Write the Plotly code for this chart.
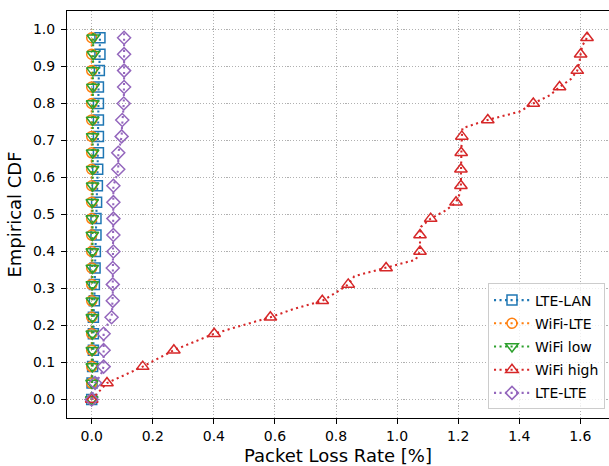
import plotly.graph_objects as go

# ---- data (ECDF: 46 sorted samples per series, y = i/45; markers every 2nd sample) ----
n_points = 46
mark_every = 2

lte_lan = [0.0, 0.0005, 0.001, 0.002, 0.003, 0.004, 0.0055, 0.0055, 0.0055, 0.0055,
           0.0055, 0.007, 0.0087, 0.0087, 0.0087, 0.010, 0.011, 0.0115, 0.012, 0.013,
           0.014, 0.014, 0.014, 0.015, 0.016, 0.017, 0.0186, 0.019, 0.0196, 0.021,
           0.022, 0.022, 0.022, 0.022, 0.022, 0.022, 0.022, 0.022, 0.022, 0.023,
           0.025, 0.026, 0.027, 0.027, 0.027, 0.027]

wifi_lte = [0.0] * 46

wifi_low = [0.0, 0.0005, 0.001, 0.0015, 0.002, 0.002, 0.002, 0.002, 0.002, 0.002,
            0.002, 0.002, 0.002, 0.002, 0.002, 0.002, 0.002, 0.002, 0.002, 0.002,
            0.002, 0.002, 0.002, 0.002, 0.002, 0.0025, 0.003, 0.003, 0.003, 0.003,
            0.003, 0.003, 0.003, 0.003, 0.003, 0.003, 0.003, 0.0035, 0.004, 0.004,
            0.004, 0.0045, 0.005, 0.005, 0.005, 0.005]

wifi_high = [0.0, 0.025, 0.050, 0.109, 0.167, 0.218, 0.269, 0.335, 0.401, 0.491,
             0.585, 0.660, 0.755, 0.800, 0.840, 0.860, 0.964, 1.061, 1.075, 1.075,
             1.075, 1.078, 1.110, 1.160, 1.193, 1.205, 1.209, 1.209, 1.209, 1.209,
             1.210, 1.211, 1.212, 1.214, 1.297, 1.400, 1.446, 1.500, 1.532, 1.570,
             1.590, 1.597, 1.601, 1.606, 1.622, 1.625]

lte_lte = [0.0, 0.004, 0.011, 0.030, 0.039, 0.039, 0.039, 0.039, 0.039, 0.050,
           0.065, 0.067, 0.069, 0.069, 0.069, 0.069, 0.069, 0.070, 0.071, 0.071,
           0.071, 0.071, 0.071, 0.071, 0.071, 0.071, 0.071, 0.080, 0.087, 0.087,
           0.087, 0.093, 0.098, 0.099, 0.100, 0.103, 0.105, 0.106, 0.106, 0.106,
           0.106, 0.106, 0.106, 0.106, 0.106, 0.106]

series_names = ["LTE-LAN", "WiFi-LTE", "WiFi low", "WiFi high", "LTE-LTE"]
series_values = [lte_lan, wifi_lte, wifi_low, wifi_high, lte_lte]
series_colors = ["#1f77b4", "#ff7f0e", "#2ca02c", "#d62728", "#9467bd"]
series_symbols = ["square-open", "circle-open", "triangle-down-open", "triangle-up-open", "diamond-open"]
series_msize = [10, 10, 11, 11, 10]

x_ticks = [0.0, 0.2, 0.4, 0.6, 0.8, 1.0, 1.2, 1.4, 1.6]
y_ticks = [0.0, 0.1, 0.2, 0.3, 0.4, 0.5, 0.6, 0.7, 0.8, 0.9, 1.0]

ecdf_y = [i / (n_points - 1) for i in range(n_points)]

FONT = "DejaVu Sans"
fig = go.Figure()
for name, vals, col, sym, ms in zip(series_names, series_values, series_colors,
                                    series_symbols, series_msize):
    mcolors = [col if (i % mark_every == 0 and i < n_points - 1) else "rgba(0,0,0,0)"
               for i in range(n_points)]
    fig.add_trace(go.Scatter(
        x=vals, y=ecdf_y, name=name, mode="lines+markers",
        legendgroup=name,
        line=dict(color=col, width=2.08, dash="2.08px,3.44px"),
        marker=dict(symbol=sym, size=ms, color=mcolors, line=dict(width=1.5)),
    ))

axis_common = dict(
    showline=True, linecolor="black", linewidth=1.1,
    ticks="outside", ticklen=5, tickwidth=1.1, tickcolor="black",
    showgrid=True, gridcolor="#b0b0b0", gridwidth=1.1, griddash="1.1px,1.8px",
    zeroline=False, tickformat=".1f",
    tickfont=dict(family=FONT, size=14, color="black"),
)

fig.update_xaxes(range=[-0.0809, 1.6939], tickvals=x_ticks, mirror=True,
                 title=dict(text="Packet Loss Rate [%]", font=dict(family=FONT, size=18, color="black"),
                            standoff=6),
                 **axis_common)
fig.update_yaxes(range=[-0.05, 1.05], tickvals=y_ticks, mirror=False,
                 ticklabelstandoff=3,
                 title=dict(text="Empirical CDF", font=dict(family=FONT, size=18, color="black"),
                            standoff=6),
                 **axis_common)

fig.update_layout(
    width=609, height=466,
    margin=dict(l=67, r=0, t=11, b=48, autoexpand=False),
    plot_bgcolor="white", paper_bgcolor="white",
    font=dict(family=FONT, size=14, color="black"),
    legend=dict(x=0.9926, y=0.0209, xanchor="right", yanchor="bottom",
                bgcolor="rgba(255,255,255,0.8)", bordercolor="#cccccc", borderwidth=1,
                font=dict(family=FONT, size=14, color="black"),
                tracegroupgap=2, itemwidth=36),
    showlegend=True,
)

fig.write_html("out.html")
